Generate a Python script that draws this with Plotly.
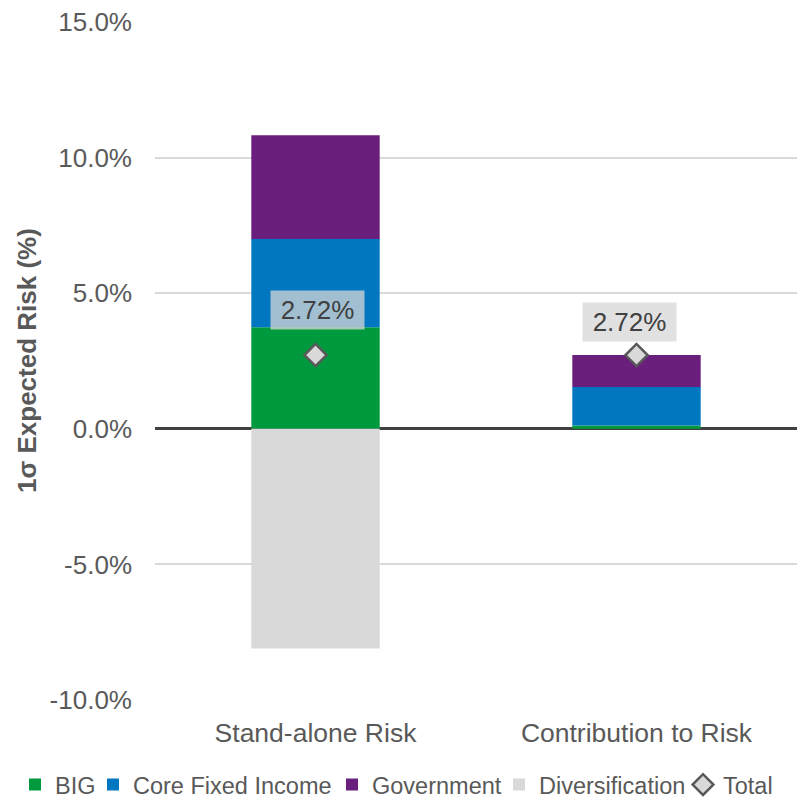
import plotly.graph_objects as go

categories = ["Stand-alone Risk", "Contribution to Risk"]
big = [3.74, 0.12]
core = [3.26, 1.42]
govt = [3.82, 1.18]
divers = [-8.10, None]
total = [2.72, 2.72]
total_labels = ["2.72%", "2.72%"]
y_tickvals = [-10, -5, 0, 5, 10, 15]
y_ticktext = ["-10.0%", "-5.0%", "0.0%", "5.0%", "10.0%", "15.0%"]

label_yshift = [45, 33]
label_xshift = [2, -7]
legend_text_x = [55, 133, 372, 539, 723]

font_family = "Liberation Sans, Arial, sans-serif"
tick_color = "#595959"

series = [("BIG", big, "#009A3E"), ("Core Fixed Income", core, "#0077C0"),
          ("Government", govt, "#6B1F7C"), ("Diversification", divers, "#D9D9D9")]
legend_ids = ["legend", "legend2", "legend3", "legend4", "legend5"]

fig = go.Figure()
for (name, vals, col), lid in zip(series, legend_ids):
    fig.add_trace(go.Bar(x=categories, y=vals, name=name, legend=lid,
                         marker=dict(color=col, line=dict(width=0)),
                         width=0.4, hoverinfo="skip"))

fig.add_trace(go.Scatter(x=categories, y=total, name="Total", mode="markers", legend=legend_ids[4],
                         marker=dict(symbol="diamond", size=17, color="#D9D9D9",
                                     line=dict(color="#595959", width=2.5))))

for c, t, lab, ys, xs in zip(categories, total, total_labels, label_yshift, label_xshift):
    fig.add_annotation(x=c, y=t, text=lab, showarrow=False, yshift=ys, xshift=xs,
                       font=dict(size=26, color="#404040", family=font_family),
                       bgcolor="rgba(215,215,215,0.75)", width=93, height=38, borderpad=0)

# y-axis title
fig.add_annotation(x=0, y=0.5, xref="paper", yref="paper", xshift=-128, textangle=-90,
                   xanchor="center", yanchor="middle",
                   text="<b>1σ Expected Risk (%)</b>", showarrow=False,
                   font=dict(size=26, color=tick_color, family=font_family))

legend_common = dict(orientation="h", xref="container", yref="container", xanchor="left",
                     y=0.019, yanchor="middle", font=dict(size=23.5, color=tick_color, family=font_family),
                     bgcolor="rgba(0,0,0,0)", borderwidth=0, itemwidth=30)
legends = {}
for lid, tx in zip(legend_ids, legend_text_x):
    legends[lid] = dict(legend_common, x=(tx - 40) / 797)

fig.update_layout(
    barmode="relative",
    width=797, height=800,
    margin=dict(l=155, r=0, t=22, b=100),
    plot_bgcolor="white", paper_bgcolor="white",
    font=dict(family=font_family, color=tick_color, size=26),
    showlegend=True,
    xaxis=dict(showline=False, showgrid=False, tickfont=dict(size=26.5, color=tick_color),
               ticks="", ticklabelstandoff=14),
    yaxis=dict(range=[-10, 15], tickvals=y_tickvals, ticktext=y_ticktext,
               gridcolor="#D9D9D9", gridwidth=1.5, zeroline=True, zerolinecolor="#404040",
               zerolinewidth=3, showline=False, tickfont=dict(size=26, color=tick_color),
               ticklabelstandoff=22),
    **legends,
)

fig.write_html("out.html")
